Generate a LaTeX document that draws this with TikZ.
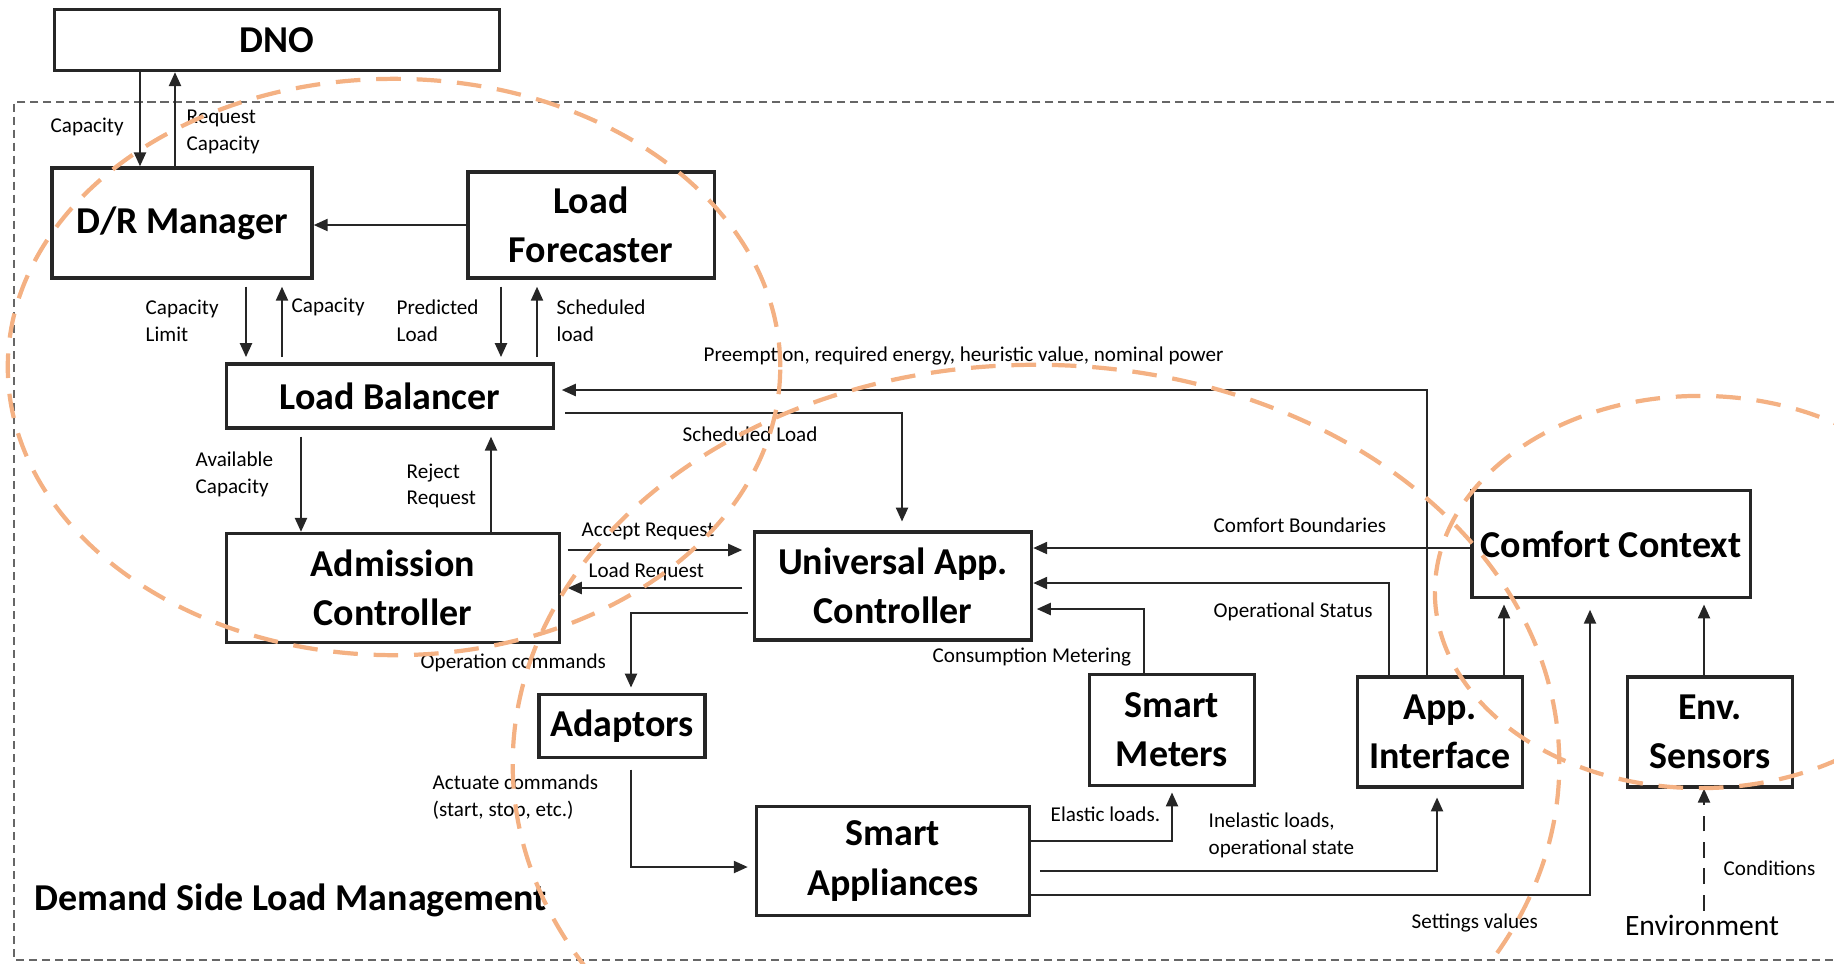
\documentclass[tikz,border=0pt]{standalone}
\usepackage{fontspec}
\setmainfont{Carlito}
\usetikzlibrary{arrows.meta}
\definecolor{zoneorange}{HTML}{F4B183}

\begin{document}
\begin{tikzpicture}[x=0.01cm, y=-0.01cm,
	box/.style={draw=black!85, line width=0.9pt, inner sep=2pt, align=center,
		font=\fontsize{10.8}{14}\selectfont\bfseries},
	lbl/.style={anchor=west, inner sep=0pt, align=left, font=\fontsize{6}{7.6}\selectfont},
	arr/.style={draw=black!85, line width=0.7pt, -{Triangle[length=4pt,width=3.4pt]}},
	frame/.style={draw=black!60, line width=0.5pt, dash pattern=on 2.3pt off 1.4pt},
	zone/.style={draw=zoneorange, line width=1.2pt, dash pattern=on 7pt off 4.5pt}]
	\useasboundingbox (0,0) rectangle (1834,963);
	
	\draw[frame] (1834,102) -| (14,960) -- (1834,960);
	
	\node[box, minimum width=4.45cm, minimum height=0.61cm] (dno) at (277,40) {DNO};
	\node[box, minimum width=2.60cm, minimum height=1.10cm] (dr) at (182,223) {D/R Manager};
	\node[box, minimum width=2.46cm, minimum height=1.06cm] (lf) at (591,225) {Load\\Forecaster};
	\node[box, minimum width=3.26cm, minimum height=0.64cm] (lb) at (390,396) {Load Balancer};
	\node[box, minimum width=3.32cm, minimum height=1.09cm] (ac) at (393,588) {Admission\\Controller};
	\node[box, minimum width=2.77cm, minimum height=1.08cm] (uac) at (893,586) {Universal App.\\Controller};
	\node[box, minimum width=1.66cm, minimum height=0.63cm] (adp) at (622,726) {Adaptors};
	\node[box, minimum width=2.73cm, minimum height=1.09cm] (sa) at (893,861) {Smart\\Appliances};
	\node[box, minimum width=1.65cm, minimum height=1.11cm] (sm) at (1172,730) {Smart\\Meters};
	\node[box, minimum width=1.65cm, minimum height=1.10cm] (ai) at (1440,732) {App.\\Interface};
	\node[box, minimum width=2.78cm, minimum height=1.07cm] (cc) at (1611,544) {Comfort Context};
	\node[box, minimum width=1.65cm, minimum height=1.10cm] (es) at (1710,732) {Env.\\Sensors};
	\node[inner sep=1pt, font=\fontsize{8.4}{10}\selectfont] (env) at (1702,925) {Environment};
	\node[anchor=west, inner sep=0pt, font=\fontsize{10.8}{13}\selectfont\bfseries] (title) at (34,900) {Demand Side Load Management};
	
	% connectors
	\draw[arr] (140,0 |- dno.south) -- (140,0 |- dr.north);
	\draw[arr] (175,0 |- dr.north) -- (175,0 |- dno.south);
	\draw[arr] (lf.west) -- (dr.east |- lf.west);
	\draw[arr, shorten <=2pt, shorten >=1.5pt] (246,0 |- dr.south) -- (246,0 |- lb.north);
	\draw[arr, shorten <=1.5pt, shorten >=2pt] (282,0 |- lb.north) -- (282,0 |- dr.south);
	\draw[arr, shorten <=2pt, shorten >=1.5pt] (501,0 |- lf.south) -- (501,0 |- lb.north);
	\draw[arr, shorten <=1.5pt, shorten >=2pt] (537,0 |- lb.north) -- (537,0 |- lf.south);
	\draw[arr, shorten <=2pt] (301,0 |- lb.south) -- (301,0 |- ac.north);
	\draw[arr, shorten >=2pt] (491,0 |- ac.north) -- (491,0 |- lb.south);
	\draw[arr, shorten >=2pt] (1427,0 |- ai.north) |- (lb.east |- 0,390);
	\draw[arr, shorten <=3pt, shorten >=2.5pt] (lb.east |- 0,413) -| (902,0 |- uac.north);
	\draw[arr, shorten <=2pt, shorten >=3pt] (ac.east |- 0,550) -- (uac.west |- 0,550);
	\draw[arr, shorten <=3pt, shorten >=2pt] (uac.west |- 0,588) -- (ac.east |- 0,588);
	\draw[arr, shorten <=1.5pt, shorten >=1.5pt] (uac.west |- 0,613) -| (631,0 |- adp.north);
	\draw[arr, shorten <=3pt, shorten >=2pt] (631,0 |- adp.south) |- (sa.west |- 0,867);
	\draw[arr, shorten >=1.5pt] (sa.east |- 0,841) -| (1172,0 |- sm.south);
	\draw[arr, shorten <=2.5pt, shorten >=2.5pt] (sa.east |- 0,871) -| (1437,0 |- ai.south);
	\draw[arr, shorten >=3pt] (sa.east |- 0,895) -| (1590,0 |- cc.south);
	\draw[arr, shorten >=1pt] (1144,0 |- sm.north) |- (uac.east |- 0,609);
	\draw[arr] (1389,0 |- ai.north) |- (uac.east |- 0,583);
	\draw[arr] (cc.west |- 0,548) -- (uac.east |- 0,548);
	\draw[arr, shorten >=1.5pt] (1504,0 |- ai.north) -- (1504,0 |- cc.south);
	\draw[arr, shorten >=1.5pt] (1704,0 |- es.north) -- (1704,0 |- cc.south);
	\draw[arr, dash pattern=on 4.5pt off 3pt] (1704,0 |- env.north) -- (1704,0 |- es.south);
	
	% labels
	\node[lbl] (lcap) at (50,127) {Capacity};
	\node[lbl] (lreq) at (186,132) {Request\\Capacity};
	\node[lbl] (llim) at (145,321) {Capacity\\Limit};
	\node[lbl] (lcap2) at (291,307) {Capacity};
	\node[lbl] (lpred) at (396,321) {Predicted\\Load};
	\node[lbl] (lsched) at (556,321) {Scheduled\\load};
	\node[lbl] (lpre) at (703,356) {Preemption, required energy, heuristic value, nominal power};
	\node[lbl] (lsl) at (682,434) {Scheduled Load};
	\node[lbl] (lavail) at (195,474) {Available\\Capacity};
	\node[lbl] (lrej) at (406,486) {Reject\\Request};
	\node[lbl] (lacc) at (581,531) {Accept Request};
	\node[lbl] (lload) at (588,572) {Load Request};
	\node[lbl] (lop) at (420,663) {Operation commands};
	\node[lbl] (lact) at (432,797) {Actuate commands\\(start, stop, etc.)};
	\node[lbl] (lcb) at (1213,525) {Comfort Boundaries};
	\node[lbl] (los) at (1213,612) {Operational Status};
	\node[lbl] (lcm) at (932,657) {Consumption Metering};
	\node[lbl] (lel) at (1050,814) {Elastic loads.};
	\node[lbl] (linel) at (1208,835) {Inelastic loads,\\operational state};
	\node[lbl] (lset) at (1411,923) {Settings values};
	\node[lbl] (lcond) at (1723,868) {Conditions};
	
	% zones
	\draw[zone] (394,367) ellipse [x radius=3.86cm, y radius=2.88cm];
	\draw[zone] (1036,764) ellipse [x radius=5.23cm, y radius=3.99cm];
	\draw[zone] (1700,592) ellipse [x radius=2.65cm, y radius=1.96cm];
\end{tikzpicture}
\end{document}
